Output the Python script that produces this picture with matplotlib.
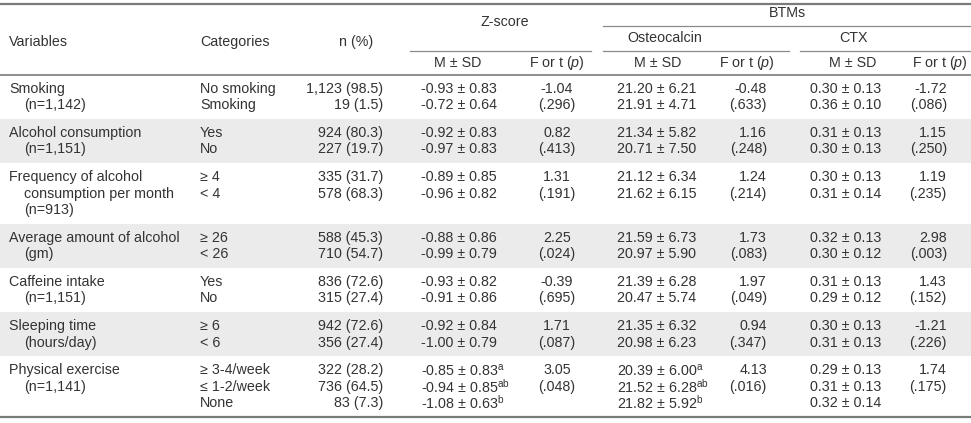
import matplotlib
matplotlib.use("Agg")
import matplotlib.pyplot as plt

plt.rcParams['font.family'] = ['Liberation Sans', 'DejaVu Sans']
plt.rcParams['mathtext.fontset'] = 'custom'
plt.rcParams['mathtext.rm'] = 'Liberation Sans'
plt.rcParams['mathtext.it'] = 'Liberation Sans:italic'

# table content, one entry per variable group
variables = [
    ["Smoking", "(n=1,142)"],
    ["Alcohol consumption", "(n=1,151)"],
    ["Frequency of alcohol", "consumption per month", "(n=913)"],
    ["Average amount of alcohol", "(gm)"],
    ["Caffeine intake", "(n=1,151)"],
    ["Sleeping time", "(hours/day)"],
    ["Physical exercise", "(n=1,141)"],
]
categories = [
    ["No smoking", "Smoking"],
    ["Yes", "No"],
    ["\u2265 4", "< 4"],
    ["\u2265 26", "< 26"],
    ["Yes", "No"],
    ["\u2265 6", "< 6"],
    ["\u2265 3-4/week", "\u2264 1-2/week", "None"],
]
n_pct = [
    ["1,123 (98.5)", "19 (1.5)"],
    ["924 (80.3)", "227 (19.7)"],
    ["335 (31.7)", "578 (68.3)"],
    ["588 (45.3)", "710 (54.7)"],
    ["836 (72.6)", "315 (27.4)"],
    ["942 (72.6)", "356 (27.4)"],
    ["322 (28.2)", "736 (64.5)", "83 (7.3)"],
]
z_msd = [
    ["-0.93 \u00b1 0.83", "-0.72 \u00b1 0.64"],
    ["-0.92 \u00b1 0.83", "-0.97 \u00b1 0.83"],
    ["-0.89 \u00b1 0.85", "-0.96 \u00b1 0.82"],
    ["-0.88 \u00b1 0.86", "-0.99 \u00b1 0.79"],
    ["-0.93 \u00b1 0.82", "-0.91 \u00b1 0.86"],
    ["-0.92 \u00b1 0.84", "-1.00 \u00b1 0.79"],
    ["-0.85 \u00b1 0.83$^{\\mathrm{a}}$", "-0.94 \u00b1 0.85$^{\\mathrm{ab}}$",
     "-1.08 \u00b1 0.63$^{\\mathrm{b}}$"],
]
z_f = [["-1.04", "(.296)"], ["0.82", "(.413)"], ["1.31", "(.191)"],
       ["2.25", "(.024)"], ["-0.39", "(.695)"], ["1.71", "(.087)"],
       ["3.05", "(.048)"]]
oc_msd = [
    ["21.20 \u00b1 6.21", "21.91 \u00b1 4.71"],
    ["21.34 \u00b1 5.82", "20.71 \u00b1 7.50"],
    ["21.12 \u00b1 6.34", "21.62 \u00b1 6.15"],
    ["21.59 \u00b1 6.73", "20.97 \u00b1 5.90"],
    ["21.39 \u00b1 6.28", "20.47 \u00b1 5.74"],
    ["21.35 \u00b1 6.32", "20.98 \u00b1 6.23"],
    ["20.39 \u00b1 6.00$^{\\mathrm{a}}$", "21.52 \u00b1 6.28$^{\\mathrm{ab}}$",
     "21.82 \u00b1 5.92$^{\\mathrm{b}}$"],
]
oc_f = [["-0.48", "(.633)"], ["1.16", "(.248)"], ["1.24", "(.214)"],
        ["1.73", "(.083)"], ["1.97", "(.049)"], ["0.94", "(.347)"],
        ["4.13", "(.016)"]]
ctx_msd = [
    ["0.30 \u00b1 0.13", "0.36 \u00b1 0.10"],
    ["0.31 \u00b1 0.13", "0.30 \u00b1 0.13"],
    ["0.30 \u00b1 0.13", "0.31 \u00b1 0.14"],
    ["0.32 \u00b1 0.13", "0.30 \u00b1 0.12"],
    ["0.31 \u00b1 0.13", "0.29 \u00b1 0.12"],
    ["0.30 \u00b1 0.13", "0.31 \u00b1 0.13"],
    ["0.29 \u00b1 0.13", "0.31 \u00b1 0.13", "0.32 \u00b1 0.14"],
]
ctx_f = [["-1.72", "(.086)"], ["1.15", "(.250)"], ["1.19", "(.235)"],
         ["2.98", "(.003)"], ["1.43", "(.152)"], ["-1.21", "(.226)"],
         ["1.74", "(.175)"]]

W, H = 971, 423
fig = plt.figure(figsize=(W / 100, H / 100), dpi=100)
ax = fig.add_axes([0, 0, 1, 1])
ax.set_xlim(0, W)
ax.set_ylim(H, 0)
ax.axis('off')

txt = '#333333'
fs = 10.3
line_c = '#8a8a8a'

# header
ax.axhline(4, color='#7a7a7a', lw=1.6)
ax.plot([603, W], [26, 26], color=line_c, lw=0.9)
ax.plot([410, 591], [51, 51], color=line_c, lw=0.9)
ax.plot([603, 789], [51, 51], color=line_c, lw=0.9)
ax.plot([800, W], [51, 51], color=line_c, lw=0.9)

ax.text(9, 42, "Variables", fontsize=fs, color=txt, va='center')
ax.text(200, 42, "Categories", fontsize=fs, color=txt, va='center')
ax.text(356, 42, "n (%)", fontsize=fs, color=txt, va='center', ha='center')
ax.text(505, 22, "Z-score", fontsize=fs, color=txt, va='center', ha='center')
ax.text(787, 13, "BTMs", fontsize=fs, color=txt, va='center', ha='center')
ax.text(665, 38, "Osteocalcin", fontsize=fs, color=txt, va='center', ha='center')
ax.text(854, 38, "CTX", fontsize=fs, color=txt, va='center', ha='center')
for cx in (458, 658, 853):
    ax.text(cx, 63, "M \u00b1 SD", fontsize=fs, color=txt, va='center', ha='center')
for cx in (557, 747, 940):
    ax.text(cx, 63, "F or t ($\\mathit{p}$)", fontsize=fs, color=txt,
            va='center', ha='center')

# body
top, bottom = 75, 417
lh = 16.5
n_lines = [max(len(v), len(c)) for v, c in zip(variables, categories)]
pad = (bottom - top - lh * sum(n_lines)) / len(n_lines)

y0 = top
for i, nl in enumerate(n_lines):
    h = nl * lh + pad
    if i % 2 == 1:
        ax.axhspan(y0, y0 + h, color='#ebebeb', lw=0, zorder=0)
    base = y0 + pad / 2 + lh / 2
    for j, s in enumerate(variables[i]):
        ax.text(9 if j == 0 else 24, base + j * lh, s, fontsize=fs, color=txt, va='center')
    for j in range(len(categories[i])):
        y = base + j * lh
        ax.text(200, y, categories[i][j], fontsize=fs, color=txt, va='center')
        ax.text(383, y, n_pct[i][j], fontsize=fs, color=txt, va='center', ha='right')
        ax.text(421, y, z_msd[i][j], fontsize=fs, color=txt, va='center')
        ax.text(617, y, oc_msd[i][j], fontsize=fs, color=txt, va='center')
        ax.text(810, y, ctx_msd[i][j], fontsize=fs, color=txt, va='center')
    for j in range(2):
        y = base + j * lh
        ax.text(557, y, z_f[i][j], fontsize=fs, color=txt, va='center', ha='center')
        ax.text(767, y, oc_f[i][j], fontsize=fs, color=txt, va='center', ha='right')
        ax.text(947, y, ctx_f[i][j], fontsize=fs, color=txt, va='center', ha='right')
    y0 += h

ax.axhline(top, color='#7a7a7a', lw=1.2)
ax.axhline(bottom, color='#7a7a7a', lw=1.6)

fig.savefig("out.png", dpi=100)
